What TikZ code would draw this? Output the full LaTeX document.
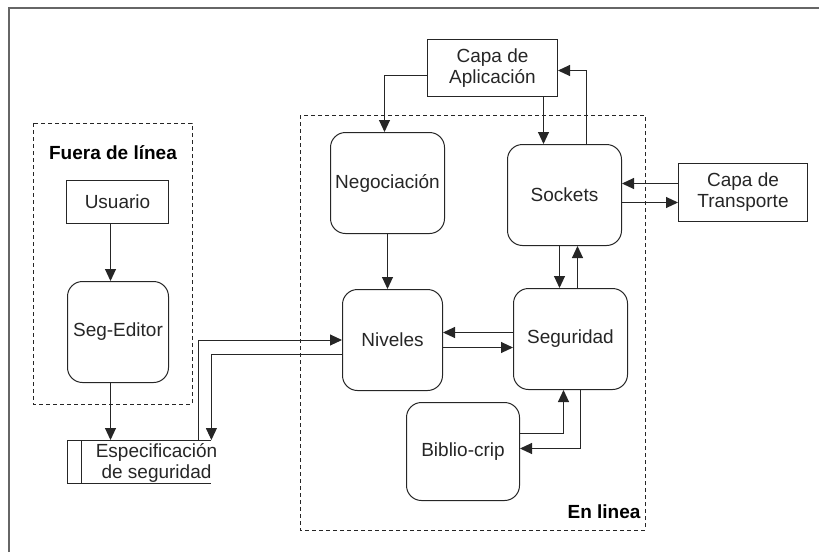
\documentclass[tikz,border=0pt]{standalone}
\usepackage{fontspec}
\setmainfont{Liberation Sans}
\usetikzlibrary{arrows.meta,calc}
\begin{document}
\begin{tikzpicture}[x=1pt,y=-1pt,
  every node/.style={font=\fontsize{19}{21}\selectfont, text=black!85},
  box/.style={draw=black!85, line width=1pt, inner sep=0pt, anchor=north west, align=center},
  rbox/.style={box, rounded corners=15pt},
  dbox/.style={draw=black!85, line width=1pt, dash pattern=on 4pt off 3pt},
  conn/.style={draw=black!85, line width=1pt},
  arr/.style={conn, -{Triangle[length=12pt,width=11pt]}},
  lbl/.style={font=\fontsize{19}{21}\selectfont\bfseries, text=black}
]
\useasboundingbox (0,0) rectangle (819,552);
% outer frame (partial)
\draw[black!60, line width=2pt] (8.5,552) -- (8.5,7.5) -- (819,7.5);

% dashed groups
\draw[dbox] (33,123) rectangle (192,404);
\draw[dbox] (300,115) rectangle (645,530);
\node[lbl] (lfuera) at (113,153) {Fuera de línea};
\node[lbl] (lenl) at (604,512) {En linea};

% boxes
\node[box, minimum width=102pt, minimum height=43pt] (usu) at (66,180) {Usuario};
\node[rbox, minimum width=101pt, minimum height=101pt] (sed) at (67,281) {Seg-Editor};
\node[box, minimum width=130pt, minimum height=57pt] (capp) at (427,39) {Capa de\\Aplicación};
\node[rbox, minimum width=114pt, minimum height=101pt] (neg) at (330,132) {Negociación};
\node[rbox, minimum width=114pt, minimum height=101pt] (soc) at (507,144) {Sockets};
\node[box, minimum width=129pt, minimum height=58pt] (ctr) at (678,163) {Capa de\\Transporte};
\node[rbox, minimum width=100pt, minimum height=101pt] (niv) at (342,289) {Niveles};
\node[rbox, minimum width=114pt, minimum height=101pt] (segu) at (513,288) {Seguridad};
\node[rbox, minimum width=113pt, minimum height=98pt] (bib) at (406,402) {Biblio-crip};

% data store
\node[inner sep=0pt, anchor=north west, minimum width=144pt, minimum height=43pt] (spec) at (67,440) {};
\node[align=center, inner sep=0pt] (spectxt) at (156.5,463) {Especificación\\de seguridad};
\draw[conn] (spec.north east) -- (spec.north west) -- (spec.south west) -- (spec.south east);
\draw[conn] ([xshift=14pt]spec.north west) -- ([xshift=14pt]spec.south west);

% connectors
\draw[arr] ([xshift=-7pt]usu.south) -- ([xshift=-7pt]usu.south |- sed.north);
\draw[arr] ([xshift=-7.5pt]sed.south) -- ([xshift=-7.5pt]sed.south |- spec.north);
\draw[arr] ([xshift=-13pt]spec.north east) |- (niv.west);
\draw[arr] ([yshift=-14pt]niv.west) -| (spec.north east);
\draw[arr] ([yshift=-7.5pt]capp.west) -| ([xshift=-3pt]neg.north);
\draw[arr] ([xshift=-21pt]soc.north |- capp.south) -- ([xshift=-21pt]soc.north);
\draw[arr] ([xshift=22pt]soc.north) |- ([yshift=-2.5pt]capp.east);
\draw[arr] ([yshift=9pt]ctr.west) -- ([yshift=9pt]ctr.west -| soc.east);
\draw[arr] ([yshift=-10pt]ctr.west -| soc.east) -- ([yshift=-10pt]ctr.west);
\draw[arr] (neg.south) -- (neg.south |- niv.north);
\draw[arr] ([xshift=-5pt]soc.south) -- ([xshift=-5pt]soc.south |- segu.north);
\draw[arr] ([xshift=13pt]soc.south |- segu.north) -- ([xshift=13pt]soc.south);
\draw[arr] ([yshift=6.5pt]segu.west) -- ([yshift=6.5pt]segu.west -| niv.east);
\draw[arr] ([yshift=-8.5pt]segu.west -| niv.east) -- ([yshift=-8.5pt]segu.west);
\draw[arr] ([yshift=18pt]bib.east) -| ([xshift=-7pt]segu.south);
\draw[arr] ([xshift=10pt]segu.south) |- ([yshift=3pt]bib.east);
\end{tikzpicture}
\end{document}
